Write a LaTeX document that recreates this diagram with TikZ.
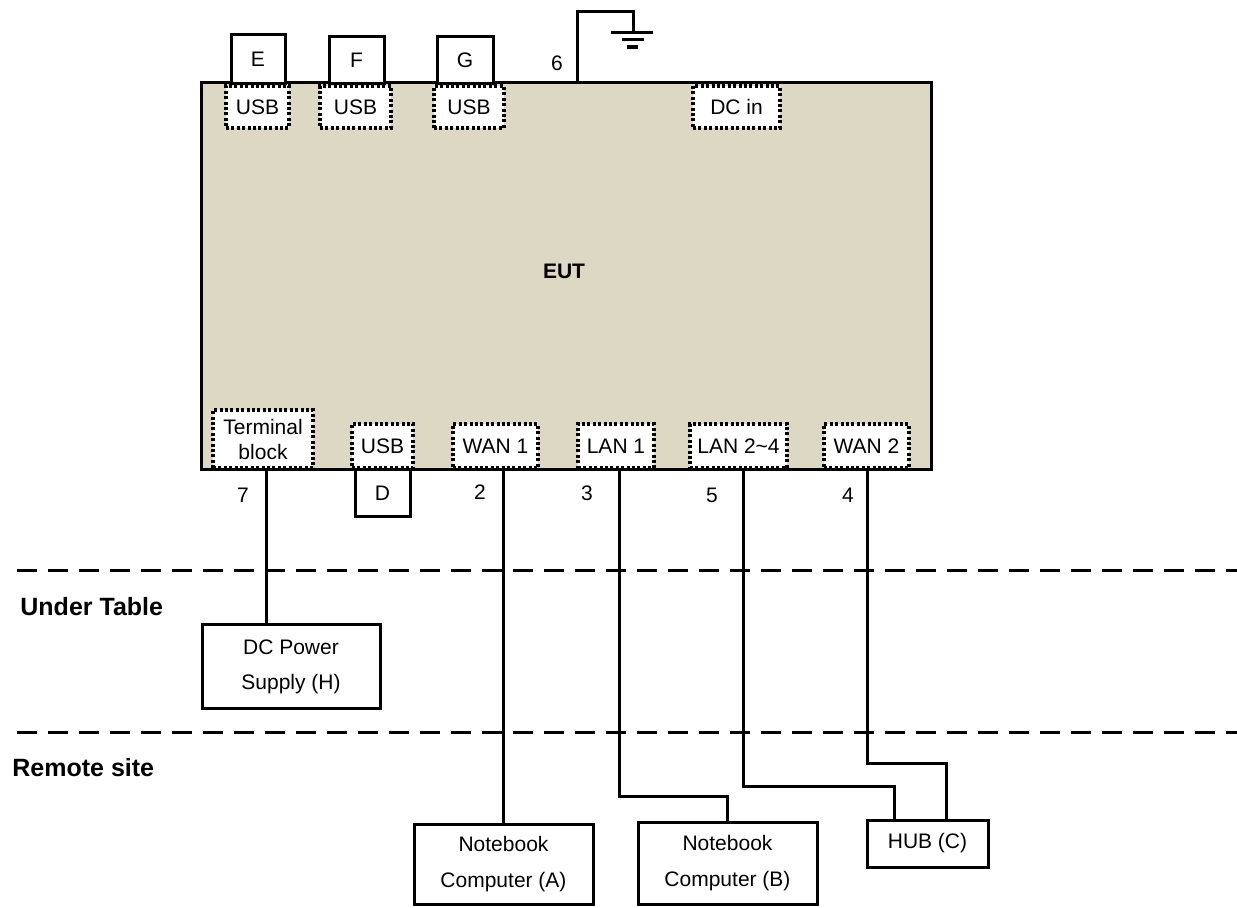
\documentclass[tikz,border=0pt]{standalone}
\usepackage{fontspec}
\setmainfont{Liberation Sans}
\usetikzlibrary{calc}
\definecolor{eutfill}{HTML}{DDD8C3}
\tikzset{
  base/.style={font=\fontsize{10.5}{12.6}\selectfont},
  eutbox/.style={draw, line width=1.5pt, fill=eutfill, inner sep=0pt},
  port/.style={base, draw, fill=white, line width=1.6pt, dash pattern=on 1.5pt off 1.2pt, inner sep=0pt, align=center},
  dev/.style={base, draw, fill=white, line width=1.5pt, inner sep=0pt, align=center},
  wire/.style={line width=1.5pt},
  zone/.style={line width=1.5pt, dash pattern=on 10pt off 5.5pt},
  zlabel/.style={font=\fontsize{12.5}{15}\selectfont\bfseries, anchor=west, inner sep=0pt},
  num/.style={base, inner sep=0pt}
}
\begin{document}
\begin{tikzpicture}[x=0.5pt, y=-0.5pt]
\useasboundingbox (0,0) rectangle (1237,908);

% EUT
\node[eutbox, minimum width=365pt, minimum height=193.5pt] (eut) at (566,276.5) {};
\node[font=\fontsize{10.5}{12.6}\selectfont\bfseries, inner sep=0pt] (eutlabel) at (564,271) {EUT};

% top ports
\node[port, minimum width=31.5pt, minimum height=21pt] (usbE) at (257.5,107) {USB};
\node[port, minimum width=35.5pt, minimum height=21pt] (usbF) at (355.5,107) {USB};
\node[port, minimum width=35pt, minimum height=21pt] (usbG) at (469,107) {USB};
\node[port, minimum width=43.5pt, minimum height=21pt] (dcin) at (736.5,107) {DC in};

% top devices
\node[dev, minimum width=27pt, minimum height=24.5pt] (E) at (258,59.5) {E};
\node[dev, minimum width=27.5pt, minimum height=23.5pt] (F) at (356.5,60.5) {F};
\node[dev, minimum width=28pt, minimum height=23.5pt] (G) at (465,60.5) {G};

% bottom ports
\node[port, minimum width=50pt, minimum height=29pt, font=\fontsize{10.5}{12.5}\selectfont] (term) at (263,439) {Terminal\\block};
\node[port, minimum width=30.5pt, minimum height=22pt] (usbD) at (382.5,446) {USB};
\node[port, minimum width=42.5pt, minimum height=22pt] (wan1) at (495.5,446) {WAN 1};
\node[port, minimum width=38pt, minimum height=22pt] (lan1) at (616,446) {LAN 1};
\node[port, minimum width=48.5pt, minimum height=22pt] (lan24) at (738.5,446) {LAN 2\textasciitilde4};
\node[port, minimum width=42.5pt, minimum height=22pt] (wan2) at (866.5,446) {WAN 2};

% D
\node[dev, minimum width=27.5pt, minimum height=23.5pt] (D) at (382.5,493.5) {D};

% numbers
\node[num] (n6) at (557,63) {6};
\node[num] (n7) at (243,495) {7};
\node[num] (n2) at (480,492) {2};
\node[num] (n3) at (587,493) {3};
\node[num] (n5) at (712,495) {5};
\node[num] (n4) at (848,495) {4};

% ground
\coordinate (g0) at (577,83);
\coordinate (gtop) at (633,12);
\coordinate (gnd) at (633,33);
\draw[wire] (g0) |- (gtop) -- (gnd);
\draw[wire] ($(gnd)+(-22,0)$) -- ($(gnd)+(20,0)$);
\draw[wire] ($(gnd)+(-11,7)$) -- ($(gnd)+(11,7)$);
\draw[line width=2pt] ($(gnd)+(-6,14)$) -- ($(gnd)+(5,14)$);

% zones
\coordinate (z1l) at (17,571);
\coordinate (z1r) at (1237,571);
\coordinate (z2l) at (17,732);
\coordinate (z2r) at (1237,732);
\draw[zone] (z1l) -- (z1r);
\draw[zone] (z2l) -- (z2r);
\node[zlabel] (under) at (20,607) {Under Table};
\node[zlabel] (remote) at (12,768) {Remote site};

% lower devices
\node[dev, minimum width=89pt, minimum height=41.5pt, font=\fontsize{10.5}{17.5}\selectfont] (H) at (291,666.5) {DC Power\\Supply (H)};
\node[dev, minimum width=89.5pt, minimum height=40pt, font=\fontsize{10.5}{18}\selectfont] (A) at (503.5,864) {Notebook\\Computer (A)};
\node[dev, minimum width=89.5pt, minimum height=41pt, font=\fontsize{10.5}{18}\selectfont] (B) at (727.5,863) {Notebook\\Computer (B)};
\node[dev, minimum width=60.5pt, minimum height=23.5pt] (hub) at (927.5,843.5) {HUB (C)};

% wire anchor points
\coordinate (tS) at ($(term.south)+(3,0)$);
\coordinate (l1S) at ($(lan1.south)+(3,0)$);
\coordinate (l24S) at ($(lan24.south)+(4.5,0)$);
\coordinate (w2S) at ($(wan2.south)+(0.5,0)$);
\coordinate (hubL) at ($(hub.north west)+(29,0)$);
\coordinate (hubR) at ($(hub.north west)+(81,0)$);
\coordinate (yB) at (0,796);
\coordinate (y24) at (0,786);
\coordinate (yW2) at (0,763);

% wires
\draw[wire] (tS) -- (tS |- H.north);
\draw[wire] (A.north) -- (A.north |- eut.south);
\draw[wire] (l1S) -- (l1S |- yB) -| (B.north);
\draw[wire] (l24S) -- (l24S |- y24) -| (hubL);
\draw[wire] (w2S) -- (w2S |- yW2) -| (hubR);
\end{tikzpicture}
\end{document}
